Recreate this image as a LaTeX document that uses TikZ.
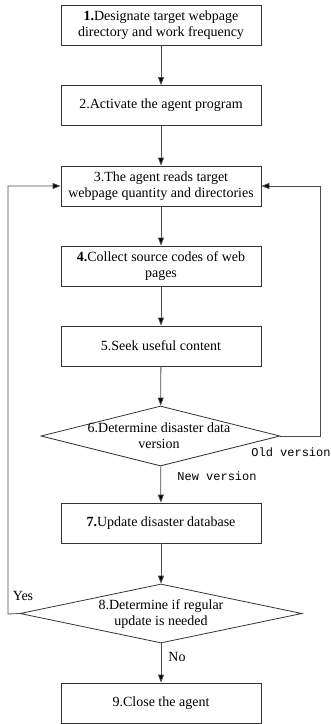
\documentclass[tikz,border=0pt]{standalone}
\usepackage{fontspec}
\setmainfont{Liberation Serif}
\newfontfamily\monof{Liberation Mono}
\usetikzlibrary{shapes.geometric,arrows.meta}
\begin{document}
\begin{tikzpicture}[x=1pt,y=-1pt,
  box/.style={draw=black!80, line width=0.8pt, minimum width=200pt, minimum height=40pt, inner sep=0pt, align=center, font=\fontsize{14}{16}\selectfont},
  dia/.style={draw=black!80, line width=0.8pt, diamond, inner sep=0pt},
  txt/.style={align=center, inner sep=0pt, font=\fontsize{14}{16}\selectfont},
  mono/.style={inner sep=0pt, font=\monof\fontsize{12}{14}\selectfont},
  arr/.style={draw=black!70, line width=0.8pt, -{Triangle[length=8pt,width=6pt,fill=black]}}
]
\useasboundingbox (0,0) rectangle (331,724);
\node[box] (b1) at (161,25) {\textbf{1.}Designate target webpage\\directory and work frequency};
\node[box] (b2) at (161,105.5) {2.Activate the agent program};
\node[box] (b3) at (161,186) {3.The agent reads target\\webpage quantity and directories};
\node[box] (b4) at (161,266) {\textbf{4.}Collect source codes of web\\pages};
\node[box] (b5) at (161,346) {5.Seek useful content};
\node[dia, minimum width=239pt, minimum height=60pt] (d6) at (160.5,436) {};
\node[txt] (t6) at (159,436) {6.Determine disaster data\\version};
\node[box] (b7) at (161,523) {\textbf{7.}Update disaster database};
\node[dia, minimum width=282pt, minimum height=59pt] (d8) at (161,613.5) {};
\node[txt] (t8) at (161,614) {8.Determine if regular\\update is needed};
\node[box] (b9) at (161,703) {9.Close the agent};
\coordinate (l1) at (8,614);
\coordinate (l2) at (8,186);
\coordinate (r1) at (320,436);
\coordinate (r2) at (320,186);
\draw[arr] (b1) -- (b2);
\draw[arr] (b2) -- (b3);
\draw[arr] (b3) -- (b4);
\draw[arr] (b4) -- (b5);
\draw[arr] (b5) -- (d6);
\draw[arr] (d6) -- (b7);
\draw[arr] (b7) -- (d8);
\draw[arr] (d8) -- (b9);
\draw[arr] (d8.west) -- (l1) -- (l2) -- (b3.west);
\draw[arr] (d6.east) -- (r1) -- (r2) -- (b3.east);
\node[mono] (old) at (291,452) {Old version};
\node[mono] (new) at (217,476) {New version};
\node[txt] (yes) at (23,596) {Yes};
\node[txt] (no) at (177,657) {No};
\end{tikzpicture}
\end{document}
